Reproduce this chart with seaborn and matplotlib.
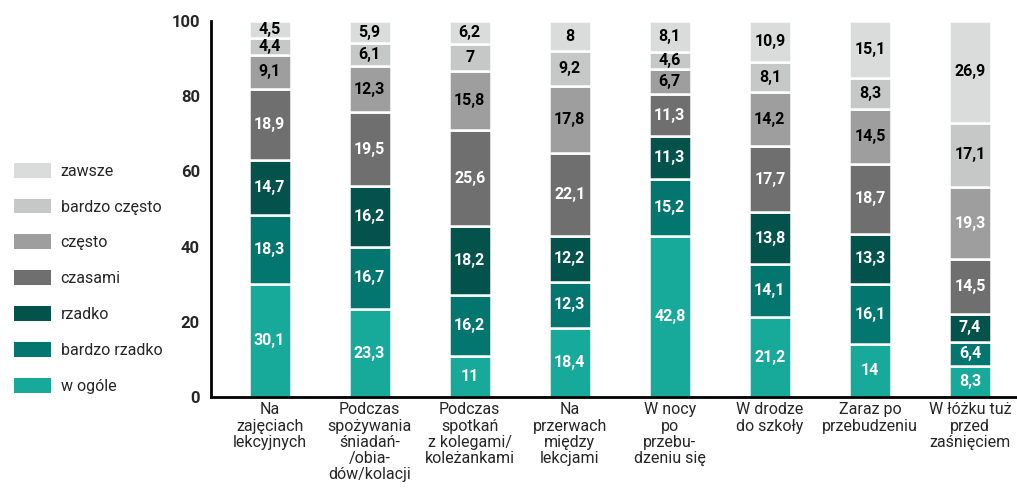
import numpy as np
import pandas as pd
import seaborn as sns
import matplotlib.pyplot as plt
from matplotlib.patches import Patch

# Dane
kategorie = [
    "Na\nzajęciach\nlekcyjnych",
    "Podczas\nspożywania\nśniadań-\n/obia-\ndów/kolacji",
    "Podczas\nspotkań\nz kolegami/\nkoleżankami",
    "Na\nprzerwach\nmiędzy\nlekcjami",
    "W nocy\npo\nprzebu-\ndzeniu się",
    "W drodze\ndo szkoły",
    "Zaraz po\nprzebudzeniu",
    "W łóżku tuż\nprzed\nzaśnięciem",
]
serie = ["w ogóle", "bardzo rzadko", "rzadko", "czasami", "często", "bardzo często", "zawsze"]

w_ogole       = [30.1, 23.3, 11.0, 18.4, 42.8, 21.2, 14.0, 8.3]
bardzo_rzadko = [18.3, 16.7, 16.2, 12.3, 15.2, 14.1, 16.1, 6.4]
rzadko        = [14.7, 16.2, 18.2, 12.2, 11.3, 13.8, 13.3, 7.4]
czasami       = [18.9, 19.5, 25.6, 22.1, 11.3, 17.7, 18.7, 14.5]
czesto        = [9.1, 12.3, 15.8, 17.8, 6.7, 14.2, 14.5, 19.3]
bardzo_czesto = [4.4, 6.1, 7.0, 9.2, 4.6, 8.1, 8.3, 17.1]
zawsze        = [4.5, 5.9, 6.2, 8.0, 8.1, 10.9, 15.1, 26.9]

kolory = ["#17aa9a", "#037670", "#03524c", "#6f6f6f", "#9e9e9e", "#c6c7c7", "#dadbdb"]
kolory_tekstu = ["white", "white", "white", "white", "black", "black", "black"]

df = pd.DataFrame({"kategoria": kategorie, "w ogóle": w_ogole, "bardzo rzadko": bardzo_rzadko,
                   "rzadko": rzadko, "czasami": czasami, "często": czesto,
                   "bardzo często": bardzo_czesto, "zawsze": zawsze})

sns.set_style("white")
plt.rcParams['font.family'] = ['Roboto', 'DejaVu Sans']

fig = plt.figure(figsize=(10.17, 4.9), dpi=100)
ax = fig.add_axes([0.2075, 0.19, 0.7925, 0.767])

def fmt(v):
    return f"{v:g}".replace(".", ",")

dol = np.zeros(len(kategorie))
for s, kol, kt in zip(serie, kolory, kolory_tekstu):
    sns.barplot(data=df, x="kategoria", y=s, color=kol, width=0.42, bottom=dol,
                edgecolor="white", linewidth=1.8, ax=ax, saturation=1)
    cont = ax.containers[-1]
    teksty = ax.bar_label(cont, labels=[fmt(v) for v in df[s]], label_type="center",
                          color=kt, fontsize=11.5, fontweight="bold")
    if s == "często":
        teksty[-1].set_color("white")
    dol = dol + df[s].values

ax.set_ylim(0, 100)
ax.set_xlim(-0.585, 7.47)
ax.set_yticks([0, 20, 40, 60, 80, 100])
ax.set_ylabel("")
ax.set_xlabel("")
ax.tick_params(axis="both", length=0, pad=8)
for t in ax.get_yticklabels():
    t.set_fontweight("bold")
    t.set_fontsize(12)
ax.set_xticks(range(len(kategorie)))
ax.set_xticklabels(kategorie, fontsize=11.5, linespacing=1.1, va="top")
ax.tick_params(axis="x", pad=4)
sns.despine(ax=ax)
for sp in ["left", "bottom"]:
    ax.spines[sp].set_color("black")
    ax.spines[sp].set_linewidth(2)

uchwyty = [Patch(facecolor=k, edgecolor="none") for k in kolory][::-1]
fig.legend(uchwyty, serie[::-1], loc="upper left", bbox_to_anchor=(0.0, 0.697),
           frameon=False, fontsize=11.5, handlelength=2.3, handleheight=1.05,
           labelspacing=1.25, handletextpad=0.6)

fig.savefig("out.png", dpi=100)
